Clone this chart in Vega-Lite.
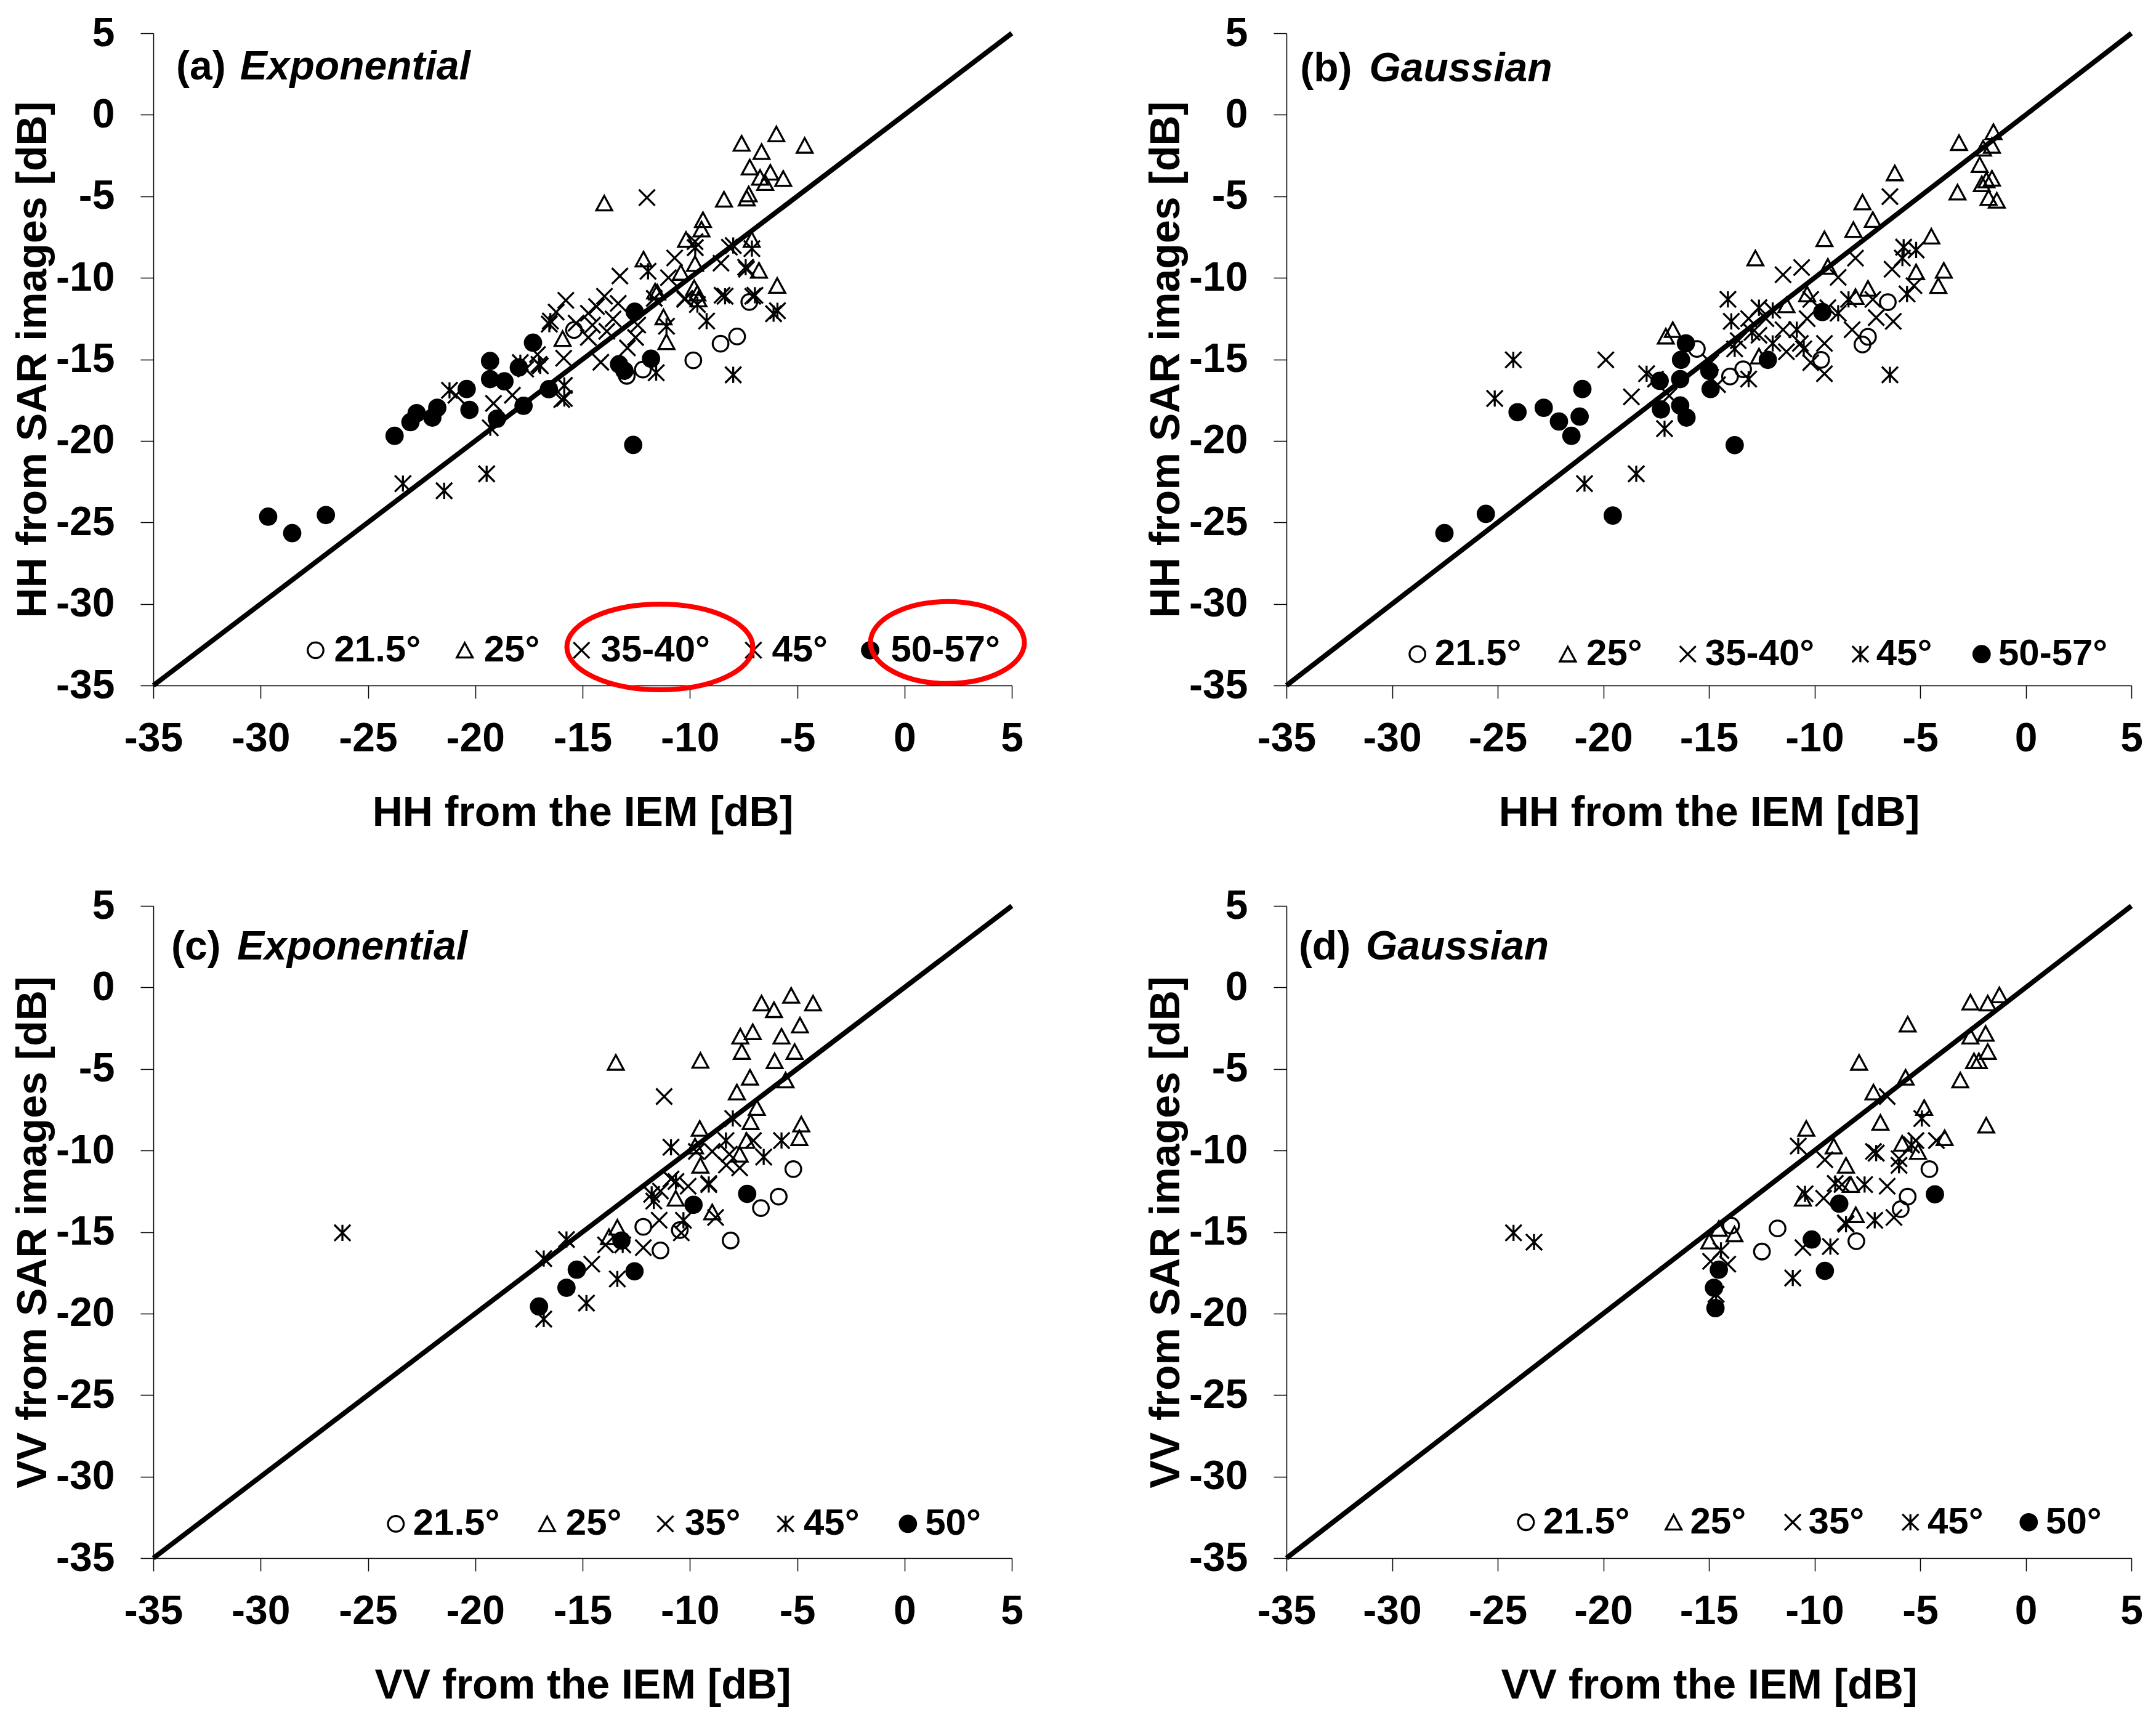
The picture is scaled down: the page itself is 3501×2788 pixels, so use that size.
{
  "$schema": "https://vega.github.io/schema/vega-lite/v6.json",
  "description": "IEM simulated vs SAR backscatter, four panels",
  "background": "white",
  "padding": {"left": 20, "top": 21, "right": 15, "bottom": 10},
  "config": {
    "font": "Liberation Sans",
    "view": {"stroke": null},
    "axis": {
      "grid": false,
      "labelFont": "Liberation Sans",
      "labelFontSize": 66,
      "labelFontWeight": "bold",
      "labelColor": "black",
      "labelFlush": false,
      "labelOverlap": false,
      "titleFont": "Liberation Sans",
      "titleFontSize": 68,
      "titleFontWeight": "bold",
      "titleColor": "black",
      "domainColor": "black",
      "domainWidth": 1.5,
      "tickColor": "black",
      "tickWidth": 1.5,
      "tickSize": 21
    },
    "axisX": {"labelPadding": 33, "titlePadding": 54},
    "axisY": {"labelPadding": 42, "titlePadding": 2}
  },
  "datasets": {
    "diag": [{"x": -35, "y": -35}, {"x": 5, "y": 5}],
    "pa": [
      {"x": -29.65, "y": -24.65, "g": "50"}, {"x": -28.53, "y": -25.66, "g": "50"}, {"x": -26.96, "y": -24.55, "g": "50"},
      {"x": -23.76, "y": -19.69, "g": "50"}, {"x": -23.02, "y": -18.85, "g": "50"}, {"x": -22.73, "y": -18.3, "g": "50"},
      {"x": -22.0, "y": -18.57, "g": "50"}, {"x": -21.77, "y": -17.97, "g": "50"}, {"x": -20.4, "y": -16.82, "g": "50"},
      {"x": -20.27, "y": -18.1, "g": "50"}, {"x": -19.31, "y": -15.1, "g": "50"}, {"x": -19.31, "y": -16.21, "g": "50"},
      {"x": -18.64, "y": -16.35, "g": "50"}, {"x": -18.99, "y": -18.64, "g": "50"}, {"x": -17.97, "y": -15.5, "g": "50"},
      {"x": -17.75, "y": -17.85, "g": "50"}, {"x": -17.31, "y": -13.98, "g": "50"}, {"x": -16.57, "y": -16.83, "g": "50"},
      {"x": -13.3, "y": -15.3, "g": "50"}, {"x": -13.05, "y": -15.7, "g": "50"}, {"x": -12.57, "y": -12.08, "g": "50"},
      {"x": -11.81, "y": -14.96, "g": "50"}, {"x": -12.64, "y": -20.25, "g": "50"},
      {"x": -7.23, "y": -11.48, "g": "21.5"}, {"x": -8.57, "y": -14.04, "g": "21.5"}, {"x": -7.8, "y": -13.6, "g": "21.5"},
      {"x": -9.84, "y": -15.06, "g": "21.5"}, {"x": -12.19, "y": -15.63, "g": "21.5"}, {"x": -12.94, "y": -16.01, "g": "21.5"},
      {"x": -15.4, "y": -13.2, "g": "21.5"},
      {"x": -7.59, "y": -1.75, "g": "25"}, {"x": -5.97, "y": -1.18, "g": "25"}, {"x": -4.65, "y": -1.88, "g": "25"},
      {"x": -6.66, "y": -2.26, "g": "25"}, {"x": -7.21, "y": -3.21, "g": "25"}, {"x": -6.73, "y": -3.84, "g": "25"},
      {"x": -6.25, "y": -3.53, "g": "25"}, {"x": -5.65, "y": -3.91, "g": "25"}, {"x": -6.49, "y": -4.16, "g": "25"},
      {"x": -8.41, "y": -5.18, "g": "25"}, {"x": -7.26, "y": -4.86, "g": "25"}, {"x": -7.35, "y": -5.11, "g": "25"},
      {"x": -9.39, "y": -6.44, "g": "25"}, {"x": -9.46, "y": -7.01, "g": "25"}, {"x": -10.18, "y": -7.65, "g": "25"},
      {"x": -7.12, "y": -7.65, "g": "25"}, {"x": -12.16, "y": -8.85, "g": "25"}, {"x": -11.52, "y": -10.88, "g": "25"},
      {"x": -11.09, "y": -13.92, "g": "25"}, {"x": -11.23, "y": -12.4, "g": "25"}, {"x": -9.65, "y": -10.94, "g": "25"},
      {"x": -9.8, "y": -10.6, "g": "25"}, {"x": -6.78, "y": -9.54, "g": "25"}, {"x": -5.93, "y": -10.47, "g": "25"},
      {"x": -10.42, "y": -9.67, "g": "25"}, {"x": -15.93, "y": -13.73, "g": "25"}, {"x": -13.99, "y": -5.42, "g": "25"},
      {"x": -9.76, "y": -9.13, "g": "25"}, {"x": -9.6, "y": -11.3, "g": "25"}, {"x": -11.62, "y": -10.82, "g": "25"},
      {"x": -12.0, "y": -5.08, "g": "35"}, {"x": -13.26, "y": -9.89, "g": "35"}, {"x": -15.78, "y": -11.38, "g": "35"},
      {"x": -13.98, "y": -11.13, "g": "35"}, {"x": -14.35, "y": -11.76, "g": "35"}, {"x": -13.34, "y": -11.57, "g": "35"},
      {"x": -10.71, "y": -8.78, "g": "35"}, {"x": -8.55, "y": -9.1, "g": "35"}, {"x": -11.0, "y": -9.99, "g": "35"},
      {"x": -10.23, "y": -11.26, "g": "35"}, {"x": -12.53, "y": -13.66, "g": "35"}, {"x": -12.43, "y": -12.9, "g": "35"},
      {"x": -14.15, "y": -15.18, "g": "35"}, {"x": -15.88, "y": -14.93, "g": "35"}, {"x": -15.3, "y": -12.78, "g": "35"},
      {"x": -14.54, "y": -12.9, "g": "35"}, {"x": -14.73, "y": -13.66, "g": "35"}, {"x": -13.87, "y": -13.28, "g": "35"},
      {"x": -13.58, "y": -12.52, "g": "35"}, {"x": -12.91, "y": -14.3, "g": "35"}, {"x": -11.66, "y": -11.26, "g": "35"},
      {"x": -8.5, "y": -11.07, "g": "35"}, {"x": -7.07, "y": -11.13, "g": "35"}, {"x": -15.97, "y": -17.47, "g": "35"},
      {"x": -17.65, "y": -15.6, "g": "35"}, {"x": -18.27, "y": -17.2, "g": "35"}, {"x": -20.9, "y": -17.2, "g": "35"},
      {"x": -19.15, "y": -17.7, "g": "35"}, {"x": -17.1, "y": -14.7, "g": "35"}, {"x": -16.23, "y": -12.1, "g": "35"},
      {"x": -9.76, "y": -7.78, "g": "35"}, {"x": -8.16, "y": -8.12, "g": "35"}, {"x": -7.36, "y": -9.47, "g": "35"},
      {"x": -10.24, "y": -11.32, "g": "35"}, {"x": -14.73, "y": -12.17, "g": "35"},
      {"x": -23.37, "y": -22.62, "g": "45"}, {"x": -21.45, "y": -23.06, "g": "45"}, {"x": -19.47, "y": -22.02, "g": "45"},
      {"x": -21.2, "y": -16.9, "g": "45"}, {"x": -19.3, "y": -19.2, "g": "45"}, {"x": -16.55, "y": -12.84, "g": "45"},
      {"x": -15.85, "y": -16.6, "g": "45"}, {"x": -15.85, "y": -17.4, "g": "45"}, {"x": -17.03, "y": -15.31, "g": "45"},
      {"x": -16.5, "y": -12.65, "g": "45"}, {"x": -9.75, "y": -8.15, "g": "45"}, {"x": -7.98, "y": -8.02, "g": "45"},
      {"x": -7.11, "y": -8.21, "g": "45"}, {"x": -7.4, "y": -9.35, "g": "45"}, {"x": -8.36, "y": -11.13, "g": "45"},
      {"x": -6.97, "y": -11.07, "g": "45"}, {"x": -5.92, "y": -12.02, "g": "45"}, {"x": -6.1, "y": -12.2, "g": "45"},
      {"x": -9.65, "y": -11.64, "g": "45"}, {"x": -9.22, "y": -12.65, "g": "45"}, {"x": -7.98, "y": -15.95, "g": "45"},
      {"x": -11.57, "y": -15.82, "g": "45"}, {"x": -11.09, "y": -12.97, "g": "45"}, {"x": -11.95, "y": -9.6, "g": "45"},
      {"x": -17.9, "y": -15.2, "g": "45"}, {"x": -16.97, "y": -15.4, "g": "45"}
    ],
    "pb": [
      {"x": -27.52, "y": -25.66, "g": "50"}, {"x": -25.56, "y": -24.48, "g": "50"}, {"x": -24.06, "y": -18.24, "g": "50"},
      {"x": -22.82, "y": -17.97, "g": "50"}, {"x": -22.1, "y": -18.81, "g": "50"}, {"x": -21.51, "y": -19.69, "g": "50"},
      {"x": -21.12, "y": -18.51, "g": "50"}, {"x": -20.99, "y": -16.82, "g": "50"}, {"x": -19.55, "y": -24.58, "g": "50"},
      {"x": -17.33, "y": -16.32, "g": "50"}, {"x": -17.27, "y": -18.07, "g": "50"}, {"x": -16.36, "y": -16.21, "g": "50"},
      {"x": -16.32, "y": -15.03, "g": "50"}, {"x": -16.09, "y": -14.02, "g": "50"}, {"x": -16.36, "y": -17.83, "g": "50"},
      {"x": -16.06, "y": -18.57, "g": "50"}, {"x": -14.98, "y": -15.71, "g": "50"}, {"x": -14.92, "y": -16.82, "g": "50"},
      {"x": -13.78, "y": -20.26, "g": "50"}, {"x": -12.21, "y": -15.03, "g": "50"}, {"x": -9.63, "y": -12.1, "g": "50"},
      {"x": -15.57, "y": -14.36, "g": "21.5"}, {"x": -14.0, "y": -16.05, "g": "21.5"}, {"x": -13.38, "y": -15.61, "g": "21.5"},
      {"x": -9.69, "y": -15.03, "g": "21.5"}, {"x": -7.73, "y": -14.09, "g": "21.5"}, {"x": -7.47, "y": -13.62, "g": "21.5"},
      {"x": -6.53, "y": -11.49, "g": "21.5"},
      {"x": -16.71, "y": -13.18, "g": "25"}, {"x": -17.04, "y": -13.58, "g": "25"}, {"x": -12.8, "y": -8.79, "g": "25"},
      {"x": -9.53, "y": -7.61, "g": "25"}, {"x": -8.16, "y": -7.04, "g": "25"}, {"x": -7.73, "y": -5.35, "g": "25"},
      {"x": -7.24, "y": -6.43, "g": "25"}, {"x": -6.2, "y": -3.57, "g": "25"}, {"x": -4.47, "y": -7.45, "g": "25"},
      {"x": -5.19, "y": -9.64, "g": "25"}, {"x": -3.88, "y": -9.54, "g": "25"}, {"x": -4.14, "y": -10.48, "g": "25"},
      {"x": -3.16, "y": -1.71, "g": "25"}, {"x": -3.23, "y": -4.75, "g": "25"}, {"x": -2.02, "y": -2.05, "g": "25"},
      {"x": -2.18, "y": -3.06, "g": "25"}, {"x": -1.86, "y": -4.0, "g": "25"}, {"x": -2.08, "y": -4.24, "g": "25"},
      {"x": -1.53, "y": -1.04, "g": "25"}, {"x": -1.6, "y": -1.88, "g": "25"}, {"x": -1.6, "y": -3.9, "g": "25"},
      {"x": -1.76, "y": -5.08, "g": "25"}, {"x": -1.37, "y": -5.25, "g": "25"}, {"x": -9.37, "y": -9.3, "g": "25"},
      {"x": -7.47, "y": -10.65, "g": "25"}, {"x": -8.06, "y": -11.15, "g": "25"}, {"x": -11.33, "y": -11.66, "g": "25"},
      {"x": -10.35, "y": -10.99, "g": "25"}, {"x": -12.63, "y": -14.8, "g": "25"},
      {"x": -19.88, "y": -15.03, "g": "35"}, {"x": -18.67, "y": -17.3, "g": "35"}, {"x": -10.61, "y": -9.37, "g": "35"},
      {"x": -11.49, "y": -9.81, "g": "35"}, {"x": -8.88, "y": -9.97, "g": "35"}, {"x": -6.43, "y": -5.02, "g": "35"},
      {"x": -8.06, "y": -8.79, "g": "35"}, {"x": -6.33, "y": -9.47, "g": "35"}, {"x": -5.29, "y": -10.48, "g": "35"},
      {"x": -6.27, "y": -12.67, "g": "35"}, {"x": -7.08, "y": -12.44, "g": "35"}, {"x": -7.24, "y": -11.32, "g": "35"},
      {"x": -8.22, "y": -13.18, "g": "35"}, {"x": -9.37, "y": -11.83, "g": "35"}, {"x": -9.53, "y": -14.02, "g": "35"},
      {"x": -9.53, "y": -15.88, "g": "35"}, {"x": -10.18, "y": -15.2, "g": "35"}, {"x": -10.67, "y": -14.02, "g": "35"},
      {"x": -10.35, "y": -12.5, "g": "35"}, {"x": -10.18, "y": -11.32, "g": "35"}, {"x": -12.3, "y": -12.5, "g": "35"},
      {"x": -13.12, "y": -12.5, "g": "35"}, {"x": -13.61, "y": -13.85, "g": "35"}, {"x": -14.59, "y": -16.55, "g": "35"},
      {"x": -14.92, "y": -15.2, "g": "35"}, {"x": -12.63, "y": -13.52, "g": "35"}, {"x": -11.49, "y": -13.18, "g": "35"},
      {"x": -11.33, "y": -14.53, "g": "35"}, {"x": -17.53, "y": -16.21, "g": "35"}, {"x": -16.88, "y": -17.23, "g": "35"},
      {"x": -25.14, "y": -17.4, "g": "45"}, {"x": -24.26, "y": -15.03, "g": "45"}, {"x": -20.89, "y": -22.62, "g": "45"},
      {"x": -18.44, "y": -22.02, "g": "45"}, {"x": -17.1, "y": -19.25, "g": "45"}, {"x": -17.95, "y": -15.88, "g": "45"},
      {"x": -14.1, "y": -11.32, "g": "45"}, {"x": -13.94, "y": -12.67, "g": "45"}, {"x": -12.63, "y": -11.83, "g": "45"},
      {"x": -11.98, "y": -12.0, "g": "45"}, {"x": -13.78, "y": -14.36, "g": "45"}, {"x": -13.12, "y": -16.21, "g": "45"},
      {"x": -10.84, "y": -13.18, "g": "45"}, {"x": -10.51, "y": -14.36, "g": "45"}, {"x": -8.88, "y": -12.17, "g": "45"},
      {"x": -8.39, "y": -11.32, "g": "45"}, {"x": -6.43, "y": -15.95, "g": "45"}, {"x": -5.78, "y": -8.12, "g": "45"},
      {"x": -5.19, "y": -8.29, "g": "45"}, {"x": -5.62, "y": -10.99, "g": "45"}, {"x": -5.84, "y": -8.79, "g": "45"},
      {"x": -12.96, "y": -13.35, "g": "45"}, {"x": -11.98, "y": -14.02, "g": "45"}
    ],
    "pc": [
      {"x": -17.03, "y": -19.57, "g": "50"}, {"x": -15.75, "y": -18.42, "g": "50"}, {"x": -15.27, "y": -17.31, "g": "50"},
      {"x": -13.19, "y": -15.52, "g": "50"}, {"x": -12.58, "y": -17.41, "g": "50"}, {"x": -9.83, "y": -13.33, "g": "50"},
      {"x": -7.33, "y": -12.66, "g": "50"},
      {"x": -12.17, "y": -14.68, "g": "21.5"}, {"x": -11.37, "y": -16.13, "g": "21.5"}, {"x": -10.47, "y": -14.88, "g": "21.5"},
      {"x": -8.1, "y": -15.52, "g": "21.5"}, {"x": -6.69, "y": -13.53, "g": "21.5"}, {"x": -5.86, "y": -12.83, "g": "21.5"},
      {"x": -5.18, "y": -11.14, "g": "21.5"},
      {"x": -13.45, "y": -4.6, "g": "25"}, {"x": -9.51, "y": -4.47, "g": "25"}, {"x": -6.66, "y": -0.96, "g": "25"},
      {"x": -5.28, "y": -0.49, "g": "25"}, {"x": -6.08, "y": -1.37, "g": "25"}, {"x": -4.26, "y": -0.96, "g": "25"},
      {"x": -4.87, "y": -2.31, "g": "25"}, {"x": -7.07, "y": -2.72, "g": "25"}, {"x": -7.65, "y": -2.99, "g": "25"},
      {"x": -7.58, "y": -3.93, "g": "25"}, {"x": -5.73, "y": -2.99, "g": "25"}, {"x": -5.12, "y": -3.93, "g": "25"},
      {"x": -6.05, "y": -4.5, "g": "25"}, {"x": -7.2, "y": -5.51, "g": "25"}, {"x": -5.54, "y": -5.68, "g": "25"},
      {"x": -7.81, "y": -6.42, "g": "25"}, {"x": -6.88, "y": -7.37, "g": "25"}, {"x": -7.17, "y": -8.24, "g": "25"},
      {"x": -9.54, "y": -8.65, "g": "25"}, {"x": -4.81, "y": -8.38, "g": "25"}, {"x": -4.9, "y": -9.22, "g": "25"},
      {"x": -7.36, "y": -9.39, "g": "25"}, {"x": -7.68, "y": -10.23, "g": "25"}, {"x": -9.76, "y": -9.73, "g": "25"},
      {"x": -9.51, "y": -10.91, "g": "25"}, {"x": -10.66, "y": -12.93, "g": "25"}, {"x": -8.96, "y": -13.77, "g": "25"},
      {"x": -13.38, "y": -14.71, "g": "25"}, {"x": -13.77, "y": -15.29, "g": "25"},
      {"x": -11.2, "y": -6.69, "g": "35"}, {"x": -11.37, "y": -12.49, "g": "35"}, {"x": -10.88, "y": -11.75, "g": "35"},
      {"x": -10.08, "y": -12.19, "g": "35"}, {"x": -8.96, "y": -10.06, "g": "35"}, {"x": -8.16, "y": -10.23, "g": "35"},
      {"x": -7.04, "y": -9.39, "g": "35"}, {"x": -7.68, "y": -11.07, "g": "35"}, {"x": -9.12, "y": -12.02, "g": "35"},
      {"x": -8.8, "y": -14.11, "g": "35"}, {"x": -10.4, "y": -15.05, "g": "35"}, {"x": -11.43, "y": -14.28, "g": "35"},
      {"x": -12.17, "y": -15.96, "g": "35"}, {"x": -13.93, "y": -15.79, "g": "35"}, {"x": -14.57, "y": -16.97, "g": "35"},
      {"x": -9.7, "y": -10.06, "g": "35"}, {"x": -8.3, "y": -10.9, "g": "35"},
      {"x": -26.19, "y": -15.05, "g": "45"}, {"x": -16.81, "y": -16.63, "g": "45"}, {"x": -15.75, "y": -15.46, "g": "45"},
      {"x": -16.81, "y": -20.34, "g": "45"}, {"x": -14.82, "y": -19.36, "g": "45"}, {"x": -13.38, "y": -17.88, "g": "45"},
      {"x": -13.13, "y": -15.79, "g": "45"}, {"x": -11.78, "y": -12.69, "g": "45"}, {"x": -10.88, "y": -9.8, "g": "45"},
      {"x": -10.3, "y": -14.28, "g": "45"}, {"x": -8.0, "y": -8.04, "g": "45"}, {"x": -8.32, "y": -9.39, "g": "45"},
      {"x": -5.73, "y": -9.39, "g": "45"}, {"x": -6.56, "y": -10.4, "g": "45"}, {"x": -9.12, "y": -12.09, "g": "45"},
      {"x": -11.68, "y": -13.1, "g": "45"}, {"x": -10.65, "y": -11.9, "g": "45"}
    ],
    "pd": [
      {"x": -14.76, "y": -18.42, "g": "50"}, {"x": -14.69, "y": -19.67, "g": "50"}, {"x": -14.53, "y": -17.31, "g": "50"},
      {"x": -10.13, "y": -15.46, "g": "50"}, {"x": -9.51, "y": -17.38, "g": "50"}, {"x": -8.83, "y": -13.26, "g": "50"},
      {"x": -4.3, "y": -12.69, "g": "50"},
      {"x": -13.95, "y": -14.61, "g": "21.5"}, {"x": -12.49, "y": -16.2, "g": "21.5"}, {"x": -11.75, "y": -14.78, "g": "21.5"},
      {"x": -8.02, "y": -15.56, "g": "21.5"}, {"x": -5.92, "y": -13.6, "g": "21.5"}, {"x": -5.59, "y": -12.83, "g": "21.5"},
      {"x": -4.56, "y": -11.14, "g": "21.5"},
      {"x": -14.98, "y": -15.56, "g": "25"}, {"x": -14.53, "y": -14.78, "g": "25"}, {"x": -13.79, "y": -15.12, "g": "25"},
      {"x": -10.39, "y": -8.65, "g": "25"}, {"x": -10.55, "y": -12.93, "g": "25"}, {"x": -9.09, "y": -9.73, "g": "25"},
      {"x": -8.51, "y": -10.91, "g": "25"}, {"x": -8.28, "y": -12.09, "g": "25"}, {"x": -8.05, "y": -13.94, "g": "25"},
      {"x": -7.89, "y": -4.6, "g": "25"}, {"x": -7.21, "y": -6.42, "g": "25"}, {"x": -6.88, "y": -8.28, "g": "25"},
      {"x": -5.69, "y": -5.51, "g": "25"}, {"x": -5.59, "y": -2.25, "g": "25"}, {"x": -4.81, "y": -7.37, "g": "25"},
      {"x": -3.84, "y": -9.22, "g": "25"}, {"x": -5.1, "y": -10.06, "g": "25"}, {"x": -5.85, "y": -9.56, "g": "25"},
      {"x": -3.1, "y": -5.68, "g": "25"}, {"x": -2.62, "y": -0.9, "g": "25"}, {"x": -2.62, "y": -2.99, "g": "25"},
      {"x": -2.45, "y": -4.5, "g": "25"}, {"x": -2.22, "y": -4.5, "g": "25"}, {"x": -1.9, "y": -2.82, "g": "25"},
      {"x": -1.8, "y": -3.93, "g": "25"}, {"x": -1.8, "y": -0.96, "g": "25"}, {"x": -1.25, "y": -0.46, "g": "25"},
      {"x": -1.87, "y": -8.45, "g": "25"},
      {"x": -9.51, "y": -10.57, "g": "35"}, {"x": -9.57, "y": -12.93, "g": "35"}, {"x": -8.7, "y": -12.09, "g": "35"},
      {"x": -10.55, "y": -15.96, "g": "35"}, {"x": -6.56, "y": -6.69, "g": "35"}, {"x": -7.21, "y": -10.06, "g": "35"},
      {"x": -6.56, "y": -12.19, "g": "35"}, {"x": -6.24, "y": -14.11, "g": "35"}, {"x": -5.2, "y": -9.39, "g": "35"},
      {"x": -4.23, "y": -9.39, "g": "35"}, {"x": -8.54, "y": -14.44, "g": "35"}, {"x": -14.11, "y": -16.97, "g": "35"},
      {"x": -14.92, "y": -16.8, "g": "35"}, {"x": -6.0, "y": -10.5, "g": "35"},
      {"x": -24.25, "y": -15.05, "g": "45"}, {"x": -23.28, "y": -15.62, "g": "45"}, {"x": -10.77, "y": -9.73, "g": "45"},
      {"x": -10.45, "y": -12.66, "g": "45"}, {"x": -11.03, "y": -17.82, "g": "45"}, {"x": -9.25, "y": -15.89, "g": "45"},
      {"x": -9.02, "y": -12.02, "g": "45"}, {"x": -8.51, "y": -14.52, "g": "45"}, {"x": -7.63, "y": -12.09, "g": "45"},
      {"x": -7.15, "y": -14.28, "g": "45"}, {"x": -6.0, "y": -10.91, "g": "45"}, {"x": -5.41, "y": -9.66, "g": "45"},
      {"x": -4.92, "y": -8.04, "g": "45"}, {"x": -14.43, "y": -16.13, "g": "45"}, {"x": -14.66, "y": -18.82, "g": "45"},
      {"x": -7.08, "y": -10.16, "g": "45"}
    ],
    "la": [
      {"x": -27.44, "y": -32.84, "g": "21.5"}, {"x": -20.49, "y": -32.84, "g": "25"}, {"x": -15.05, "y": -32.84, "g": "35"},
      {"x": -7.04, "y": -32.84, "g": "45"}, {"x": -1.6, "y": -32.84, "g": "50"}
    ],
    "ta": [
      {"x": -26.58, "y": -32.84, "label": "21.5°"}, {"x": -19.6, "y": -32.84, "label": "25°"}, {"x": -14.15, "y": -32.84, "label": "35-40°"},
      {"x": -6.18, "y": -32.84, "label": "45°"}, {"x": -0.64, "y": -32.84, "label": "50-57°"}
    ],
    "lb": [
      {"x": -28.8, "y": -33.08, "g": "21.5"}, {"x": -21.68, "y": -33.08, "g": "25"}, {"x": -16.0, "y": -33.08, "g": "35"},
      {"x": -7.83, "y": -33.08, "g": "45"}, {"x": -2.09, "y": -33.08, "g": "50"}
    ],
    "tb": [
      {"x": -27.98, "y": -33.08, "label": "21.5°"}, {"x": -20.8, "y": -33.08, "label": "25°"}, {"x": -15.18, "y": -33.08, "label": "35-40°"},
      {"x": -7.08, "y": -33.08, "label": "45°"}, {"x": -1.3, "y": -33.08, "label": "50-57°"}
    ],
    "lc": [
      {"x": -23.7, "y": -32.9, "g": "21.5"}, {"x": -16.65, "y": -32.9, "g": "25"}, {"x": -11.14, "y": -32.9, "g": "35"},
      {"x": -5.54, "y": -32.9, "g": "45"}, {"x": 0.16, "y": -32.9, "g": "50"}
    ],
    "tc": [
      {"x": -22.9, "y": -32.9, "label": "21.5°"}, {"x": -15.78, "y": -32.9, "label": "25°"}, {"x": -10.24, "y": -32.9, "label": "35°"},
      {"x": -4.7, "y": -32.9, "label": "45°"}, {"x": 0.96, "y": -32.9, "label": "50°"}
    ],
    "ld": [
      {"x": -23.66, "y": -32.8, "g": "21.5"}, {"x": -16.67, "y": -32.8, "g": "25"}, {"x": -11.03, "y": -32.8, "g": "35"},
      {"x": -5.46, "y": -32.8, "g": "45"}, {"x": 0.14, "y": -32.8, "g": "50"}
    ],
    "td": [
      {"x": -22.85, "y": -32.8, "label": "21.5°"}, {"x": -15.89, "y": -32.8, "label": "25°"}, {"x": -10.29, "y": -32.8, "label": "35°"},
      {"x": -4.65, "y": -32.8, "label": "45°"}, {"x": 0.95, "y": -32.8, "label": "50°"}
    ]
  },
  "columns": 2,
  "spacing": {"row": 358, "column": 446},
  "bounds": "flush",
  "concat": [
    {
      "width": 1394,
      "height": 1059,
      "encoding": {
        "x": {"field": "x", "type": "quantitative", "scale": {"domain": [-35, 5], "nice": false, "zero": false},
          "axis": {"values": [-35, -30, -25, -20, -15, -10, -5, 0, 5], "title": "HH from the IEM [dB]",
            "labelExpr": "datum.value < 0 ? '-' + (-datum.value) : '' + datum.value"}},
        "y": {"field": "y", "type": "quantitative", "scale": {"domain": [-35, 5], "nice": false, "zero": false},
          "axis": {"values": [-35, -30, -25, -20, -15, -10, -5, 0, 5], "title": "HH from SAR images [dB]",
            "labelExpr": "datum.value < 0 ? '-' + (-datum.value) : '' + datum.value"}}
      },
      "layer": [
        {"data": {"name": "diag"}, "mark": {"type": "line", "color": "black", "strokeWidth": 8}, "encoding": {}},
        {"data": {"name": "pa"}, "mark": {"type": "point", "stroke": "black", "opacity": 1},
          "encoding": {
            "shape": {"field": "g", "type": "nominal", "legend": null, "scale": {"domain": ["21.5", "25", "35", "45", "50"], "range": ["circle", "M0,-0.92L1,0.92L-1,0.92Z", "M-1,-1L1,1M-1,1L1,-1", "M-1,-1L1,1M-1,1L1,-1M0,-1L0,1", "circle"]}},
            "fill": {"field": "g", "type": "nominal", "legend": null, "scale": {"domain": ["21.5", "25", "35", "45", "50"], "range": ["transparent", "transparent", "transparent", "transparent", "black"]}},
            "size": {"field": "g", "type": "nominal", "legend": null, "scale": {"domain": ["21.5", "25", "35", "45", "50"], "range": [650, 700, 730, 730, 730]}},
            "strokeWidth": {"field": "g", "type": "nominal", "legend": null, "scale": {"domain": ["21.5", "25", "35", "45", "50"], "range": [3.3, 3.3, 4, 4, 3]}}
          }},
        {"data": {"name": "la"}, "mark": {"type": "point", "stroke": "black", "opacity": 1},
          "encoding": {
            "shape": {"field": "g", "type": "nominal", "legend": null},
            "fill": {"field": "g", "type": "nominal", "legend": null},
            "size": {"field": "g", "type": "nominal", "legend": null},
            "strokeWidth": {"field": "g", "type": "nominal", "legend": null}
          }},
        {"data": {"name": "ta"}, "mark": {"type": "text", "align": "left", "baseline": "middle", "fontSize": 60, "fontWeight": "bold", "color": "black"},
          "encoding": {"text": {"field": "label"}}},
        {"data": {"values": [{"x": -33.94, "y": 2.17, "label": "(a)"}]}, "mark": {"type": "text", "align": "left", "baseline": "alphabetic", "fontSize": 66, "fontWeight": "bold", "color": "black"},
          "encoding": {"text": {"field": "label"}}},
        {"data": {"values": [{"x": -30.96, "y": 2.17, "label": "Exponential"}]}, "mark": {"type": "text", "align": "left", "baseline": "alphabetic", "fontSize": 66, "fontWeight": "bold", "fontStyle": "italic", "color": "black"},
          "encoding": {"text": {"field": "label"}}},
        {"data": {"values": [{"x": -11.4, "y": -32.64}]}, "mark": {"type": "point", "filled": false, "stroke": "red", "strokeWidth": 8, "opacity": 1, "size": 91204,
          "shape": "M-1,0C-1,-0.254,-0.552,-0.46,0,-0.46C0.552,-0.46,1,-0.254,1,0C1,0.254,0.552,0.46,0,0.46C-0.552,0.46,-1,0.254,-1,0Z"}, "encoding": {}},
        {"data": {"values": [{"x": 2.0, "y": -32.37}]}, "mark": {"type": "point", "filled": false, "stroke": "red", "strokeWidth": 8, "opacity": 1, "size": 62500,
          "shape": "M-1,0C-1,-0.294,-0.552,-0.532,0,-0.532C0.552,-0.532,1,-0.294,1,0C1,0.294,0.552,0.532,0,0.532C-0.552,0.532,-1,0.294,-1,0Z"}, "encoding": {}}
      ]
    },
    {
      "width": 1372,
      "height": 1059,
      "encoding": {
        "x": {"field": "x", "type": "quantitative", "scale": {"domain": [-35, 5], "nice": false, "zero": false},
          "axis": {"values": [-35, -30, -25, -20, -15, -10, -5, 0, 5], "title": "HH from the IEM [dB]",
            "labelExpr": "datum.value < 0 ? '-' + (-datum.value) : '' + datum.value"}},
        "y": {"field": "y", "type": "quantitative", "scale": {"domain": [-35, 5], "nice": false, "zero": false},
          "axis": {"values": [-35, -30, -25, -20, -15, -10, -5, 0, 5], "title": "HH from SAR images [dB]",
            "labelExpr": "datum.value < 0 ? '-' + (-datum.value) : '' + datum.value"}}
      },
      "layer": [
        {"data": {"name": "diag"}, "mark": {"type": "line", "color": "black", "strokeWidth": 8}, "encoding": {}},
        {"data": {"name": "pb"}, "mark": {"type": "point", "stroke": "black", "opacity": 1},
          "encoding": {
            "shape": {"field": "g", "type": "nominal", "legend": null, "scale": {"domain": ["21.5", "25", "35", "45", "50"], "range": ["circle", "M0,-0.92L1,0.92L-1,0.92Z", "M-1,-1L1,1M-1,1L1,-1", "M-1,-1L1,1M-1,1L1,-1M0,-1L0,1", "circle"]}},
            "fill": {"field": "g", "type": "nominal", "legend": null, "scale": {"domain": ["21.5", "25", "35", "45", "50"], "range": ["transparent", "transparent", "transparent", "transparent", "black"]}},
            "size": {"field": "g", "type": "nominal", "legend": null, "scale": {"domain": ["21.5", "25", "35", "45", "50"], "range": [650, 700, 730, 730, 730]}},
            "strokeWidth": {"field": "g", "type": "nominal", "legend": null, "scale": {"domain": ["21.5", "25", "35", "45", "50"], "range": [3.3, 3.3, 4, 4, 3]}}
          }},
        {"data": {"name": "lb"}, "mark": {"type": "point", "stroke": "black", "opacity": 1},
          "encoding": {
            "shape": {"field": "g", "type": "nominal", "legend": null},
            "fill": {"field": "g", "type": "nominal", "legend": null},
            "size": {"field": "g", "type": "nominal", "legend": null},
            "strokeWidth": {"field": "g", "type": "nominal", "legend": null}
          }},
        {"data": {"name": "tb"}, "mark": {"type": "text", "align": "left", "baseline": "middle", "fontSize": 60, "fontWeight": "bold", "color": "black"},
          "encoding": {"text": {"field": "label"}}},
        {"data": {"values": [{"x": -34.35, "y": 2.07, "label": "(b)"}]}, "mark": {"type": "text", "align": "left", "baseline": "alphabetic", "fontSize": 66, "fontWeight": "bold", "color": "black"},
          "encoding": {"text": {"field": "label"}}},
        {"data": {"values": [{"x": -31.08, "y": 2.07, "label": "Gaussian"}]}, "mark": {"type": "text", "align": "left", "baseline": "alphabetic", "fontSize": 66, "fontWeight": "bold", "fontStyle": "italic", "color": "black"},
          "encoding": {"text": {"field": "label"}}}
      ]
    },
    {
      "width": 1394,
      "height": 1059,
      "encoding": {
        "x": {"field": "x", "type": "quantitative", "scale": {"domain": [-35, 5], "nice": false, "zero": false},
          "axis": {"values": [-35, -30, -25, -20, -15, -10, -5, 0, 5], "title": "VV from the IEM [dB]",
            "labelExpr": "datum.value < 0 ? '-' + (-datum.value) : '' + datum.value"}},
        "y": {"field": "y", "type": "quantitative", "scale": {"domain": [-35, 5], "nice": false, "zero": false},
          "axis": {"values": [-35, -30, -25, -20, -15, -10, -5, 0, 5], "title": "VV from SAR images [dB]",
            "labelExpr": "datum.value < 0 ? '-' + (-datum.value) : '' + datum.value"}}
      },
      "layer": [
        {"data": {"name": "diag"}, "mark": {"type": "line", "color": "black", "strokeWidth": 8}, "encoding": {}},
        {"data": {"name": "pc"}, "mark": {"type": "point", "stroke": "black", "opacity": 1},
          "encoding": {
            "shape": {"field": "g", "type": "nominal", "legend": null, "scale": {"domain": ["21.5", "25", "35", "45", "50"], "range": ["circle", "M0,-0.92L1,0.92L-1,0.92Z", "M-1,-1L1,1M-1,1L1,-1", "M-1,-1L1,1M-1,1L1,-1M0,-1L0,1", "circle"]}},
            "fill": {"field": "g", "type": "nominal", "legend": null, "scale": {"domain": ["21.5", "25", "35", "45", "50"], "range": ["transparent", "transparent", "transparent", "transparent", "black"]}},
            "size": {"field": "g", "type": "nominal", "legend": null, "scale": {"domain": ["21.5", "25", "35", "45", "50"], "range": [650, 700, 730, 730, 730]}},
            "strokeWidth": {"field": "g", "type": "nominal", "legend": null, "scale": {"domain": ["21.5", "25", "35", "45", "50"], "range": [3.3, 3.3, 4, 4, 3]}}
          }},
        {"data": {"name": "lc"}, "mark": {"type": "point", "stroke": "black", "opacity": 1},
          "encoding": {
            "shape": {"field": "g", "type": "nominal", "legend": null},
            "fill": {"field": "g", "type": "nominal", "legend": null},
            "size": {"field": "g", "type": "nominal", "legend": null},
            "strokeWidth": {"field": "g", "type": "nominal", "legend": null}
          }},
        {"data": {"name": "tc"}, "mark": {"type": "text", "align": "left", "baseline": "middle", "fontSize": 60, "fontWeight": "bold", "color": "black"},
          "encoding": {"text": {"field": "label"}}},
        {"data": {"values": [{"x": -34.17, "y": 1.7, "label": "(c)"}]}, "mark": {"type": "text", "align": "left", "baseline": "alphabetic", "fontSize": 66, "fontWeight": "bold", "color": "black"},
          "encoding": {"text": {"field": "label"}}},
        {"data": {"values": [{"x": -31.1, "y": 1.7, "label": "Exponential"}]}, "mark": {"type": "text", "align": "left", "baseline": "alphabetic", "fontSize": 66, "fontWeight": "bold", "fontStyle": "italic", "color": "black"},
          "encoding": {"text": {"field": "label"}}}
      ]
    },
    {
      "width": 1372,
      "height": 1059,
      "encoding": {
        "x": {"field": "x", "type": "quantitative", "scale": {"domain": [-35, 5], "nice": false, "zero": false},
          "axis": {"values": [-35, -30, -25, -20, -15, -10, -5, 0, 5], "title": "VV from the IEM [dB]",
            "labelExpr": "datum.value < 0 ? '-' + (-datum.value) : '' + datum.value"}},
        "y": {"field": "y", "type": "quantitative", "scale": {"domain": [-35, 5], "nice": false, "zero": false},
          "axis": {"values": [-35, -30, -25, -20, -15, -10, -5, 0, 5], "title": "VV from SAR images [dB]",
            "labelExpr": "datum.value < 0 ? '-' + (-datum.value) : '' + datum.value"}}
      },
      "layer": [
        {"data": {"name": "diag"}, "mark": {"type": "line", "color": "black", "strokeWidth": 8}, "encoding": {}},
        {"data": {"name": "pd"}, "mark": {"type": "point", "stroke": "black", "opacity": 1},
          "encoding": {
            "shape": {"field": "g", "type": "nominal", "legend": null, "scale": {"domain": ["21.5", "25", "35", "45", "50"], "range": ["circle", "M0,-0.92L1,0.92L-1,0.92Z", "M-1,-1L1,1M-1,1L1,-1", "M-1,-1L1,1M-1,1L1,-1M0,-1L0,1", "circle"]}},
            "fill": {"field": "g", "type": "nominal", "legend": null, "scale": {"domain": ["21.5", "25", "35", "45", "50"], "range": ["transparent", "transparent", "transparent", "transparent", "black"]}},
            "size": {"field": "g", "type": "nominal", "legend": null, "scale": {"domain": ["21.5", "25", "35", "45", "50"], "range": [650, 700, 730, 730, 730]}},
            "strokeWidth": {"field": "g", "type": "nominal", "legend": null, "scale": {"domain": ["21.5", "25", "35", "45", "50"], "range": [3.3, 3.3, 4, 4, 3]}}
          }},
        {"data": {"name": "ld"}, "mark": {"type": "point", "stroke": "black", "opacity": 1},
          "encoding": {
            "shape": {"field": "g", "type": "nominal", "legend": null},
            "fill": {"field": "g", "type": "nominal", "legend": null},
            "size": {"field": "g", "type": "nominal", "legend": null},
            "strokeWidth": {"field": "g", "type": "nominal", "legend": null}
          }},
        {"data": {"name": "td"}, "mark": {"type": "text", "align": "left", "baseline": "middle", "fontSize": 60, "fontWeight": "bold", "color": "black"},
          "encoding": {"text": {"field": "label"}}},
        {"data": {"values": [{"x": -34.42, "y": 1.73, "label": "(d)"}]}, "mark": {"type": "text", "align": "left", "baseline": "alphabetic", "fontSize": 66, "fontWeight": "bold", "color": "black"},
          "encoding": {"text": {"field": "label"}}},
        {"data": {"values": [{"x": -31.24, "y": 1.73, "label": "Gaussian"}]}, "mark": {"type": "text", "align": "left", "baseline": "alphabetic", "fontSize": 66, "fontWeight": "bold", "fontStyle": "italic", "color": "black"},
          "encoding": {"text": {"field": "label"}}}
      ]
    }
  ]
}
